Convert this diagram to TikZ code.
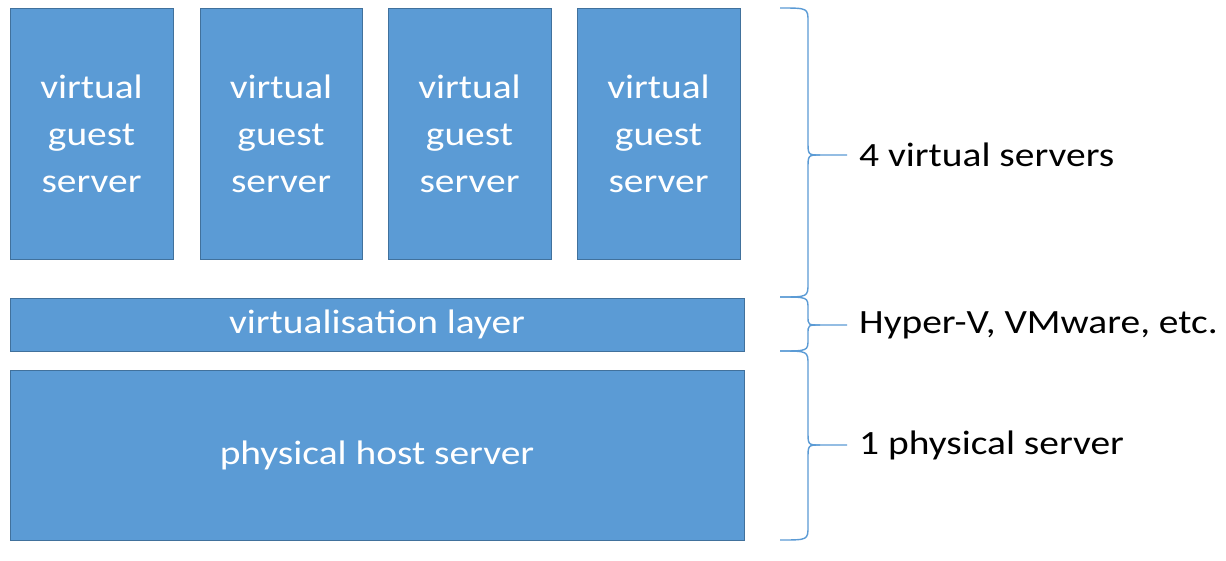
\documentclass[tikz,border=0pt]{standalone}
\usepackage{fontspec}
\setmainfont{Carlito}[FakeStretch=1.16]
\definecolor{boxfill}{HTML}{5B9BD5}
\definecolor{boxline}{HTML}{41719C}
\definecolor{bracec}{HTML}{5B9BD5}
\begin{document}
\begin{tikzpicture}[x=1pt,y=-1pt,
  vbox/.style={draw=boxline,fill=boxfill,line width=1pt,text=white,font=\fontsize{34}{47}\selectfont,align=center,inner sep=0pt},
  lbl/.style={font=\fontsize{34}{40}\selectfont,anchor=west,inner sep=0pt},
  brc/.style={draw=bracec,line width=1.4pt}]
\useasboundingbox[fill=white] (0,0) rectangle (1226,560);
\node[vbox,minimum width=163pt,minimum height=251pt] (g1) at (91.5,133.5) {virtual\\guest\\server};
\node[vbox,minimum width=162pt,minimum height=251pt] (g2) at (281,133.5) {virtual\\guest\\server};
\node[vbox,minimum width=163pt,minimum height=251pt] (g3) at (469.5,133.5) {virtual\\guest\\server};
\node[vbox,minimum width=163pt,minimum height=251pt] (g4) at (658.5,133.5) {virtual\\guest\\server};
\node[vbox,minimum width=734pt,minimum height=53pt] (vl) at (377,324.5) {virtualisation layer};
\node[vbox,minimum width=734pt,minimum height=170pt] (ph) at (377,455) {physical host server};
% braces
\draw[brc] (780,8) .. controls (808,8) .. (808,22) -- (808,141) .. controls (808,155) .. (820,155) -- (847,155);
\draw[brc] (820,155) .. controls (808,155) .. (808,169) -- (808,283) .. controls (808,297) .. (780,297);
\draw[brc] (780,297) .. controls (808,297) .. (808,309) -- (808,316) .. controls (808,325) .. (820,325) -- (847,325);
\draw[brc] (820,325) .. controls (808,325) .. (808,334) -- (808,339) .. controls (808,351) .. (780,351);
\draw[brc] (780,351) .. controls (808,351) .. (808,365) -- (808,431) .. controls (808,445) .. (820,445) -- (847,445);
\draw[brc] (820,445) .. controls (808,445) .. (808,459) -- (808,526) .. controls (808,540) .. (780,540);
\node[lbl] (t1) at (859,155) {4 virtual servers};
\node[lbl] (t2) at (859,325) {Hyper-V, VMware, etc.};
\node[lbl] (t3) at (859,445) {1 physical server};
\end{tikzpicture}
\end{document}
